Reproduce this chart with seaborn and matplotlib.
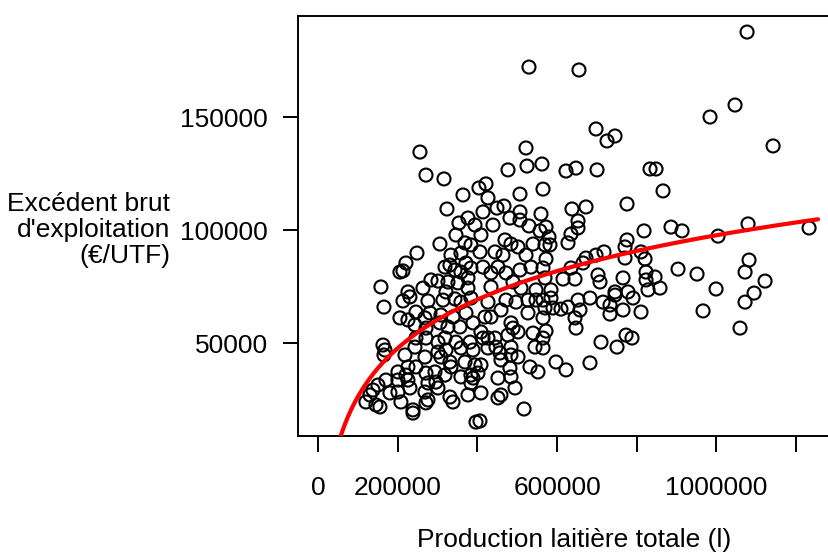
import numpy as np
import matplotlib
matplotlib.use("Agg")
import matplotlib.pyplot as plt
import seaborn as sns

# Production laitière totale (l) et EBE (€/UTF)
production = [
    256000, 271100, 316300, 529600, 655100, 697800, 725400, 745500, 522100, 1076800,
    1046700, 983900, 1142100, 364000, 404100, 323800, 376500, 353900, 394100, 346400,
    369000, 384000, 306200, 248500, 220900, 213400, 205800, 333800, 358900, 331300,
    318800, 371500, 343900, 358900, 384000, 283600, 301200, 326300, 351400, 376500,
    158100, 263600, 225900, 321300, 376500,
    476900, 524600, 562200, 622500, 647600, 700300, 833300, 848400, 421700, 507000,
    564800, 426700, 775600, 637500, 672700, 466900, 449300, 414200, 507000, 559700,
    481900, 652600, 652600, 439300, 507000, 529600, 557200, 572300, 635000, 818300,
    409100, 469400, 579800, 775600, 627500, 484400, 502000, 539700, 569800, 582300,
    770600, 406600, 444300, 464400, 522100, 572300, 672700, 697800, 717900, 810700,
    770600, 820800, 414200, 451800, 507000, 534600, 564800, 635000, 665200, 434200,
    471900, 489500, 569800, 615000, 645100, 702800, 707800, 765600, 823300, 823300,
    845900, 434200, 509500, 547200, 584800, 745500, 778100, 828300,
    866000, 886000, 913600, 1004000, 1079300, 1232400, 903600, 951300, 1081800, 1071800,
    1122000, 858400, 999000, 1094400, 1071800, 966400, 1059200,
    426700, 471900, 497000, 527100, 547200, 564800, 584800, 569800, 589900, 609900,
    627500, 652600, 657600, 682700, 715400, 732900, 732900, 745500, 765600, 790700,
    810700, 645100, 647600, 527100, 459300, 419200, 434200, 484400, 502000, 564800,
    539700, 572300, 564800, 409100, 414200, 426700, 444300, 476900, 489500, 710300,
    773100, 788100, 750500, 544700, 564800, 446800, 484400, 426700, 456800, 484400,
    502000, 459300, 597400, 622500, 682700, 532100, 552200, 409100, 401600, 481900,
    484400, 451800, 494500, 409100, 451800, 459300, 517100, 406600,
    165700, 213400, 230900, 276100, 313800, 343900, 358900, 384000, 205800, 225900,
    246000, 268600, 281100, 308700, 338900, 371500, 243500, 271100, 306200, 326300,
    356400, 389100, 246000, 271100, 301200, 318800, 346400, 381500, 163200, 168200,
    165700, 218400, 243500, 268600, 301200, 321300, 358900, 389100, 308700, 331300,
    333800, 369000, 394100, 225900, 246000, 200800, 220900, 271100, 293700, 318800,
    358900, 384000, 150600, 170700, 200800, 225900, 276100, 296200, 301200, 268600,
    230900, 200800, 180700, 138100, 130500, 120500, 145600, 155600, 208300, 276100,
    271100, 331300, 338900, 376500, 384000, 389100, 238500, 238500, 396600,
]
ebe = [
    134500, 124300, 122600, 172100, 170800, 144700, 139400, 141600, 136300, 187600,
    155300, 150000, 137200, 115500, 118600, 109300, 105300, 103100, 102200, 97800,
    94300, 93400, 93800, 89800, 85400, 81900, 81400, 88900, 89800, 84500,
    83600, 85400, 82300, 81400, 83200, 77900, 77400, 77000, 76600, 78800,
    74800, 74300, 72600, 72600, 74300,
    126600, 128300, 129200, 126100, 127400, 126600, 127000, 127000, 120400, 115900,
    118100, 114200, 111500, 109300, 110200, 110600, 109700, 108000, 108000, 107100,
    105300, 104000, 100900, 102200, 104400, 101800, 99600, 101300, 98200, 99600,
    97800, 95600, 96900, 95600, 94300, 93800, 92500, 93800, 93400, 93400,
    92500, 90300, 90300, 88900, 88900, 87200, 87600, 88900, 90300, 90300,
    87600, 87200, 83600, 83600, 82300, 83600, 83200, 83200, 85400, 81000,
    81000, 77000, 78800, 78300, 78300, 80100, 77000, 78800, 81400, 77900,
    79200, 74800, 74300, 73500, 73500, 72600, 72600, 73500,
    117300, 101300, 99600, 97300, 102700, 100900, 82700, 80500, 86700, 81400,
    77400, 74300, 73900, 72100, 68100, 64200, 56600,
    68100, 69000, 68100, 69000, 69000, 69000, 69900, 65500, 65500, 65000,
    65900, 69000, 64600, 69900, 68100, 66800, 62800, 71200, 64600, 69900,
    63700, 61100, 56600, 63300, 64600, 61500, 61500, 58900, 54900, 61100,
    54400, 55300, 52200, 54900, 52200, 52200, 52200, 53500, 56600, 50400,
    53500, 52200, 48200, 48200, 47800, 48200, 48200, 47800, 45600, 44700,
    43800, 42500, 41600, 38100, 41200, 39400, 37200, 40300, 36700, 38900,
    35000, 34500, 30100, 27900, 25700, 27000, 20800, 15500,
    65900, 68600, 70400, 68600, 69000, 69500, 68100, 69900, 61100, 60200,
    63700, 61100, 63300, 62400, 61500, 63300, 58000, 56600, 58900, 57100,
    57100, 58900, 52200, 52200, 50400, 52200, 50400, 50400, 49100, 46900,
    44700, 44700, 48200, 43800, 46000, 46900, 47800, 46900, 43800, 41600,
    39400, 41600, 40300, 39400, 39400, 37200, 35800, 36700, 37200, 35800,
    35000, 35800, 31400, 33600, 33600, 33600, 32300, 32700, 30100, 28300,
    30100, 28300, 27900, 29200, 27000, 23900, 22600, 21700, 23900, 24800,
    23500, 26100, 23900, 27000, 32300, 34500, 20400, 19000, 15000,
]

# ajustement logarithmique : ebe = a + b * ln(production)
fit_a = -331500
fit_b = 31066
fit_range = (40000, 1255000)

x_ticks = [0, 200000, 400000, 600000, 800000, 1000000, 1200000]
x_tick_labels = ["0", "200000", "", "600000", "", "1000000", ""]
y_ticks = [50000, 100000, 150000]

sns.set_style("white")
plt.rcParams["font.family"] = ["Liberation Sans", "DejaVu Sans"]

fig = plt.figure(figsize=(8.29, 5.58), dpi=100)
ax = fig.add_axes([298 / 829, 122 / 558, 538 / 829, 420 / 558])

sns.scatterplot(x=production, y=ebe, ax=ax, marker="o", s=88,
                facecolors="none", edgecolor="black", linewidth=1.5, zorder=2)

fit_x = np.geomspace(fit_range[0], fit_range[1], 300)
fit_y = fit_a + fit_b * np.log(fit_x)
ax.plot(fit_x, fit_y, color="#ff0000", lw=3, zorder=3)

ax.set_xlim(-50000, 1300000)
ax.set_ylim(8850, 194700)
ax.set_xticks(x_ticks)
ax.set_xticklabels(x_tick_labels)
ax.set_yticks(y_ticks)
ax.set_yticklabels([str(v) for v in y_ticks])
ax.set_xlabel("")
ax.set_ylabel("")

for side in ["left", "bottom", "top", "right"]:
    ax.spines[side].set_color("black")
    ax.spines[side].set_linewidth(1.4)

ax.tick_params(axis="x", direction="out", length=11.5, width=1.4, pad=17,
               labelsize=19, colors="black", bottom=True)
ax.tick_params(axis="y", direction="out", length=10.5, width=1.4, pad=11,
               labelsize=19, colors="black", left=True)

fig.text(574 / 829, 11 / 558, "Production laitière totale (l)", ha="center",
         va="baseline", fontsize=19, color="black")
fig.text(170 / 829, (558 - 230) / 558, "Excédent brut\nd'exploitation\n(€/UTF)",
         ha="right", va="center", multialignment="right", fontsize=19,
         color="black", linespacing=1.12)

fig.savefig("out.png", dpi=100)
